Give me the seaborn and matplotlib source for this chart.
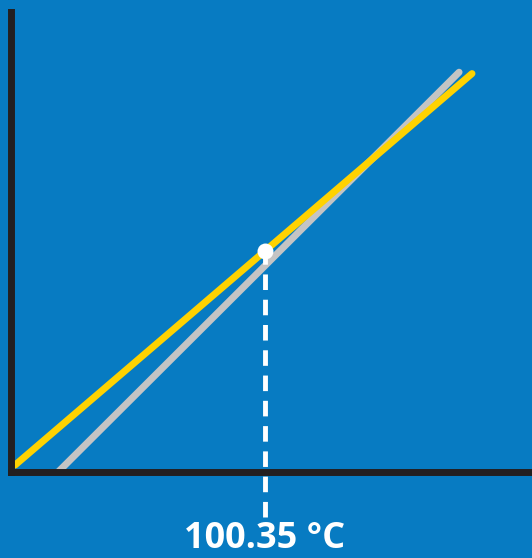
import numpy as np
import matplotlib
matplotlib.use("Agg")
import matplotlib.pyplot as plt
import matplotlib.transforms as mtransforms
import seaborn as sns

# temperature (°C) / arbitrary response units
yellow_temp = [1.8, 182.3]
yellow_resp = [1.4, 86.6]
gray_temp = [19.0, 177.2]
gray_resp = [0.0, 86.9]
marker_temp = 100.35
marker_label = "100.35 °C"

bg_blue = "#077bc2"
yellow = "#ffd200"
gray = "#c4c4c4"
axis_black = "#231f20"

sns.set_style("white")
plt.rcParams['font.family'] = ['Open Sans', 'DejaVu Sans']

fig = plt.figure(figsize=(5.32, 5.58), dpi=100, facecolor=bg_blue)
W, H = 532.0, 558.0
ax = fig.add_axes([10.5 / W, 86.5 / H, (W - 10.5) / W, (546 - 86.5) / H])
ax.set_facecolor(bg_blue)

sns.lineplot(x=gray_temp, y=gray_resp, ax=ax, color=gray, linewidth=5,
             solid_capstyle='round')
sns.lineplot(x=yellow_temp, y=yellow_resp, ax=ax, color=yellow, linewidth=5,
             solid_capstyle='round')

ax.set_xlim(0, 206)
ax.set_ylim(0, 100)

# marker sits on the yellow line
marker_resp = np.interp(marker_temp, yellow_temp, yellow_resp)
ax.plot([marker_temp, marker_temp], [-9.8, marker_resp], color="white",
        linewidth=3.5, dashes=(3.2, 2.0), clip_on=False, zorder=4)
ax.plot([marker_temp], [marker_resp], marker='o', markersize=11.5,
        color="white", markeredgewidth=0, clip_on=False, zorder=5)

# label kept fully inside the canvas
trans = mtransforms.blended_transform_factory(ax.transData, fig.transFigure)
ax.text(marker_temp, 1.0 / H, marker_label, transform=trans, ha='center',
        va='bottom', color="white", fontsize=26, fontweight='bold')

for side in ['top', 'right']:
    ax.spines[side].set_visible(False)
for side in ['left', 'bottom']:
    ax.spines[side].set_color(axis_black)
    ax.spines[side].set_linewidth(5)
ax.set_xticks([])
ax.set_yticks([])

fig.savefig("out.png", dpi=100, facecolor=bg_blue)
